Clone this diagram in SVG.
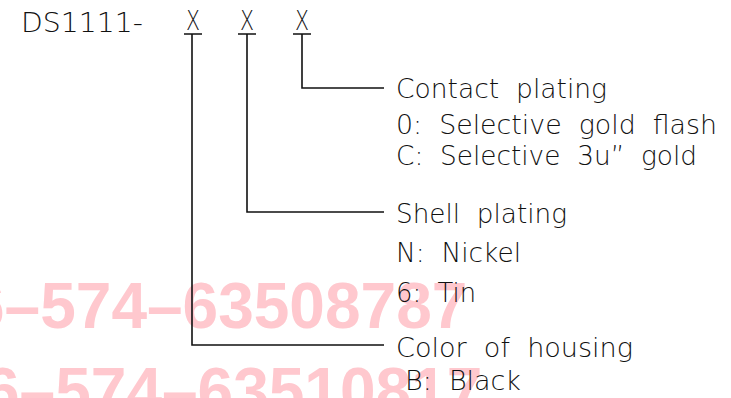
<svg xmlns="http://www.w3.org/2000/svg" width="731" height="398" viewBox="0 0 731 398">
<style>
.t{font-family:"DejaVu Sans","Liberation Sans",sans-serif;font-weight:200;font-size:26px;fill:#111;white-space:pre}
.wm{font-family:"Liberation Sans",Arial,sans-serif;font-weight:bold;font-size:64px;fill:#ffc8ce}
.ln{stroke:#111;stroke-width:1.6;fill:none}
</style>
<rect width="731" height="398" fill="#fff"/>
<g id="watermark">
<text class="wm" x="-31" y="328">6–574–63508787</text>
<text class="wm" x="-16" y="413">6–574–63510817</text>
</g>
<g id="code">
<text class="t" x="21" y="32" textLength="122" lengthAdjust="spacingAndGlyphs">DS1111-</text>
<text class="t" x="186" y="30" textLength="14" lengthAdjust="spacingAndGlyphs">X</text>
<text class="t" x="240" y="30" textLength="14" lengthAdjust="spacingAndGlyphs">X</text>
<text class="t" x="295" y="30" textLength="14" lengthAdjust="spacingAndGlyphs">X</text>
</g>
<g id="connectors">
<path class="ln" d="M184 34H202M238 34H256M293 34H311"/>
<path class="ln" d="M302 34V88H384"/>
<path class="ln" d="M247 34V212H384"/>
<path class="ln" d="M192 34V345H384"/>
</g>
<g id="contact-plating">
<text class="t" x="396" y="98" textLength="211" lengthAdjust="spacingAndGlyphs">Contact  plating</text>
<text class="t" x="396" y="134" textLength="321" lengthAdjust="spacingAndGlyphs">0:  Selective  gold  flash</text>
<text class="t" x="396" y="165" textLength="301" lengthAdjust="spacingAndGlyphs">C:  Selective  3u”  gold</text>
</g>
<g id="shell-plating">
<text class="t" x="396" y="223" textLength="171" lengthAdjust="spacingAndGlyphs">Shell  plating</text>
<text class="t" x="396" y="262" textLength="125" lengthAdjust="spacingAndGlyphs">N:  Nickel</text>
<text class="t" x="396" y="302" textLength="80" lengthAdjust="spacingAndGlyphs">6:  Tin</text>
</g>
<g id="color-of-housing">
<text class="t" x="396" y="357" textLength="237" lengthAdjust="spacingAndGlyphs">Color  of  housing</text>
<text class="t" x="405" y="390" textLength="116" lengthAdjust="spacingAndGlyphs">B:  Black</text>
</g>
</svg>
